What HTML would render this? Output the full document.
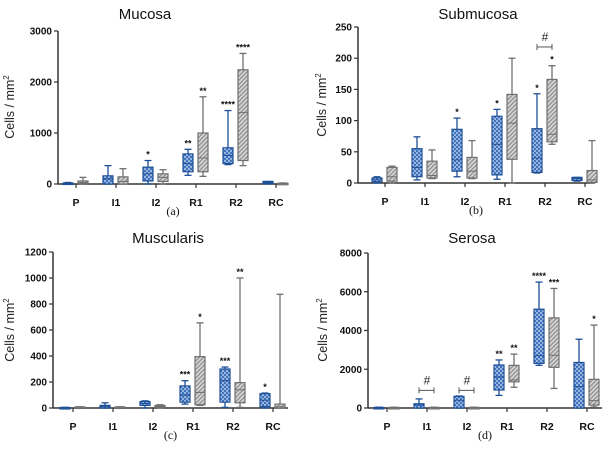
<!DOCTYPE html>
<html><head><meta charset="utf-8"><style>
body{margin:0;background:#fff;width:610px;height:450px;overflow:hidden}
svg{display:block;font-family:"Liberation Sans",sans-serif}
</style></head><body>
<svg id="chart" width="610" height="450">
<defs>
<pattern id="pb" width="4" height="4" patternUnits="userSpaceOnUse"><rect width="4" height="4" fill="#3f72bd"/><circle cx="1" cy="1" r="0.9" fill="#dbe7f7"/><circle cx="3" cy="3" r="0.9" fill="#dbe7f7"/></pattern>
<pattern id="pg" width="3" height="3" patternUnits="userSpaceOnUse" patternTransform="rotate(45)"><rect width="3" height="3" fill="#d6d6d6"/><rect width="1.2" height="3" fill="#8a8a8a"/></pattern>
</defs>
</svg>
<script>
const categories=["P","I1","I2","R1","R2","RC"];
// [min,q1,median,q3,max]
const mucosaBlue=[[0,0,10,20,30],[0,0,100,160,360],[0,60,200,330,460],[170,240,400,590,680],[380,400,560,710,1440],[0,10,30,50,50]];
const mucosaGray=[[0,10,30,60,130],[0,0,50,140,300],[0,50,130,200,280],[150,240,510,1000,1710],[360,460,1400,2240,2560],[0,5,10,15,20]];
const submucosaBlue=[[0,2,5,8,10],[5,10,25,55,74],[10,19,37,86,104],[6,13,62,107,118],[16,17,40,87,143],[3,4,7,9,9]];
const submucosaGray=[[0,3,10,25,27],[7,8,12,35,53],[7,8,19,41,68],[0,38,96,142,200],[62,66,78,166,188],[0,1,5,20,68]];
const muscularisBlue=[[0,0,2,4,5],[0,0,10,20,40],[0,20,35,50,55],[30,45,100,170,210],[5,45,210,300,315],[0,10,60,110,115]];
const muscularisGray=[[0,2,5,8,10],[0,2,5,8,10],[0,5,12,20,25],[20,25,120,395,655],[5,40,140,195,1000],[0,0,10,30,875]];
const serosaBlue=[[0,0,10,30,40],[0,0,150,220,470],[0,0,400,600,620],[650,930,1600,2220,2480],[2200,2300,2700,5100,6500],[0,0,1100,2350,3550]];
const serosaGray=[[0,0,10,30,40],[0,0,10,30,40],[0,0,10,30,40],[1070,1350,1450,2200,2780],[1010,2100,2720,4650,6170],[50,150,380,1480,4280]];
const mucosaTicks=[0,1000,2000,3000];
const submucosaTicks=[0,50,100,150,200,250];
const muscularisTicks=[0,200,400,600,800,1000,1200];
const serosaTicks=[0,2000,4000,6000,8000];
const mucosaStarsBlue=["","","*","**","****",""];
const mucosaStarsGray=["","","","**","****",""];
const submucosaStarsBlue=["","","*","*","*",""];
const submucosaStarsGray=["","","","","*",""];
const muscularisStarsBlue=["","","","***","***","*"];
const muscularisStarsGray=["","","","*","**",""];
const serosaStarsBlue=["","","","**","****",""];
const serosaStarsGray=["","","","**","***","*"];
const submucosaBrackets=[[4,218]];
const serosaBrackets=[[1,910],[2,910]];

const panels=[
 {name:"mucosa",title:"Mucosa",tag:"(a)",ax:58,axEnd:288,top:31,bot:184,c0:76,ticks:mucosaTicks,blue:mucosaBlue,gray:mucosaGray,sb:mucosaStarsBlue,sg:mucosaStarsGray,br:[],tx:145,ty:19,yl:[14,107]},
 {name:"submucosa",title:"Submucosa",tag:"(b)",ax:358,axEnd:594,top:27,bot:183,c0:385,ticks:submucosaTicks,blue:submucosaBlue,gray:submucosaGray,sb:submucosaStarsBlue,sg:submucosaStarsGray,br:submucosaBrackets,tx:478,ty:19,yl:[326,105]},
 {name:"muscularis",title:"Muscularis",tag:"(c)",ax:53,axEnd:288,top:252,bot:408,c0:73,ticks:muscularisTicks,blue:muscularisBlue,gray:muscularisGray,sb:muscularisStarsBlue,sg:muscularisStarsGray,br:[],tx:168,ty:243,yl:[14,330]},
 {name:"serosa",title:"Serosa",tag:"(d)",ax:368,axEnd:602,top:253,bot:408,c0:387,ticks:serosaTicks,blue:serosaBlue,gray:serosaGray,sb:serosaStarsBlue,sg:serosaStarsGray,br:serosaBrackets,tx:472,ty:243,yl:[327,330]}
];
const svg=document.getElementById('chart');
const NS="http://www.w3.org/2000/svg";
function mk(tag,attrs,parent,text){const e=document.createElementNS(NS,tag);for(const k in attrs)e.setAttribute(k,attrs[k]);if(text!==undefined)e.textContent=text;parent.appendChild(e);return e;}
panels.forEach(p=>{
 const g=mk('g',{},svg);
 
 
 const maxV=p.ticks[p.ticks.length-1];
 const y=v=>p.bot-(v/maxV)*(p.bot-p.top);
 const x=i=>p.c0+i*40;
 const t=mk('text',{x:p.tx,y:p.ty,'text-anchor':'middle','font-size':15,fill:'#111'},g,p.title);
 
 
 const yl=mk('text',{x:p.yl[0],y:p.yl[1],'text-anchor':'middle','font-size':12.5,fill:'#222',transform:`rotate(-90 ${p.yl[0]} ${p.yl[1]})`},g);
 
 
 yl.innerHTML='Cells / mm<tspan dy="-5" font-size="8">2</tspan>';
 const ya=mk('line',{x1:p.ax,x2:p.ax,y1:p.top,y2:p.bot,stroke:'#333','stroke-width':1.5},g);
 
 
 const xa=mk('line',{x1:p.ax,x2:p.axEnd,y1:p.bot,y2:p.bot,stroke:'#333','stroke-width':1.5},g);
 
 
 p.ticks.forEach(v=>{
  mk('line',{x1:p.ax-4,x2:p.ax,y1:y(v),y2:y(v),stroke:'#333','stroke-width':1.2},g);
  const tl=mk('text',{x:p.ax-6,y:y(v)+3.5,'text-anchor':'end','font-size':10,'font-weight':'bold',fill:'#111'},g,String(v));
  
  
 });
 categories.forEach((c,i)=>{
  mk('line',{x1:x(i),x2:x(i),y1:p.bot,y2:p.bot+4,stroke:'#333','stroke-width':1.2},g);
  const cl=mk('text',{x:x(i),y:p.bot+22,'text-anchor':'middle','font-size':10.5,'font-weight':'bold',fill:'#111'},g,c);
  
  
  [[p.blue[i],-8,'#1d4f96','url(#pb)',p.sb[i]],[p.gray[i],7,'#6f6f6f','url(#pg)',p.sg[i]]].forEach(([d,off,col,fill,star],si)=>{
   const cx=x(i)+off;
   const bg=mk('g',{},g);
   
   
   mk('line',{x1:cx,x2:cx,y1:y(d[4]),y2:y(d[3]),stroke:col,'stroke-width':1.3},bg);
   mk('line',{x1:cx,x2:cx,y1:y(d[1]),y2:y(d[0]),stroke:col,'stroke-width':1.3},bg);
   mk('line',{x1:cx-3.5,x2:cx+3.5,y1:y(d[4]),y2:y(d[4]),stroke:col,'stroke-width':1.3},bg);
   mk('line',{x1:cx-3.5,x2:cx+3.5,y1:y(d[0]),y2:y(d[0]),stroke:col,'stroke-width':1.3},bg);
   const h=Math.max(y(d[1])-y(d[3]),1.5);
   mk('rect',{x:cx-5,y:y(d[3]),width:10,height:h,fill:fill,stroke:col,'stroke-width':1.2},bg);
   mk('line',{x1:cx-5,x2:cx+5,y1:y(d[2]),y2:y(d[2]),stroke:col,'stroke-width':1},bg);
   if(star){const s=mk('text',{x:cx,y:y(d[4])-3,'text-anchor':'middle','font-size':9,'font-weight':'bold',fill:'#111'},bg,star);
    
    }
  });
 });
 p.br.forEach(([i,v])=>{
  const bg=mk('g',{stroke:'#555','stroke-width':1},g);
  
  
  const x1=x(i)-8,x2=x(i)+7,yy=y(v);
  mk('line',{x1:x1,x2:x2,y1:yy,y2:yy},bg);
  mk('line',{x1:x1,x2:x1,y1:yy-3,y2:yy+3},bg);
  mk('line',{x1:x2,x2:x2,y1:yy-3,y2:yy+3},bg);
  mk('text',{x:x(i),y:yy-6,'text-anchor':'middle','font-size':12,fill:'#222',stroke:'none'},bg,'#');
 });
 const tg=mk('text',{x:(p.ax+p.axEnd)/2,y:p.bot+31,'text-anchor':'middle','font-size':12,'font-family':'Liberation Serif, serif',fill:'#111'},g,p.tag);
 
 
});
</script>
</body></html>
